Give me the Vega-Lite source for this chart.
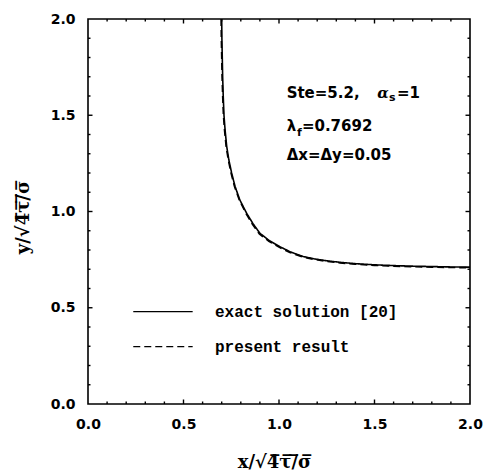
{
  "$schema": "https://vega.github.io/schema/vega-lite/v6.json",
  "autosize": {"type": "none"},
  "padding": {"left": 88, "top": 19, "right": 14, "bottom": 69},
  "width": 382,
  "height": 385,
  "background": "white",
  "config": {
    "view": {"stroke": "black", "strokeWidth": 1.6},
    "axis": {
      "domain": false, "grid": false, "ticks": false,
      "labelFont": "DejaVu Sans", "labelFontWeight": "bold", "labelFontSize": 14, "labelColor": "black",
      "titleFont": "DejaVu Serif", "titleFontWeight": "bold", "titleFontSize": 18, "titleColor": "black"
    }
  },
  "datasets": {
    "curves": [
      {"series": "exact", "x": 0.700, "y": 2.00},
      {"series": "exact", "x": 0.701, "y": 1.90},
      {"series": "exact", "x": 0.703, "y": 1.80},
      {"series": "exact", "x": 0.705, "y": 1.70},
      {"series": "exact", "x": 0.708, "y": 1.60},
      {"series": "exact", "x": 0.712, "y": 1.50},
      {"series": "exact", "x": 0.718, "y": 1.42},
      {"series": "exact", "x": 0.726, "y": 1.34},
      {"series": "exact", "x": 0.737, "y": 1.27},
      {"series": "exact", "x": 0.752, "y": 1.20},
      {"series": "exact", "x": 0.770, "y": 1.13},
      {"series": "exact", "x": 0.795, "y": 1.06},
      {"series": "exact", "x": 0.831, "y": 0.99},
      {"series": "exact", "x": 0.865, "y": 0.935},
      {"series": "exact", "x": 0.900, "y": 0.887},
      {"series": "exact", "x": 0.950, "y": 0.848},
      {"series": "exact", "x": 1.005, "y": 0.817},
      {"series": "exact", "x": 1.060, "y": 0.790},
      {"series": "exact", "x": 1.127, "y": 0.766},
      {"series": "exact", "x": 1.190, "y": 0.753},
      {"series": "exact", "x": 1.250, "y": 0.744},
      {"series": "exact", "x": 1.320, "y": 0.736},
      {"series": "exact", "x": 1.400, "y": 0.729},
      {"series": "exact", "x": 1.500, "y": 0.723},
      {"series": "exact", "x": 1.600, "y": 0.719},
      {"series": "exact", "x": 1.700, "y": 0.716},
      {"series": "exact", "x": 1.800, "y": 0.714},
      {"series": "exact", "x": 1.900, "y": 0.712},
      {"series": "exact", "x": 2.000, "y": 0.711},
      {"series": "present", "x": 0.697, "y": 2.00},
      {"series": "present", "x": 0.698, "y": 1.90},
      {"series": "present", "x": 0.700, "y": 1.80},
      {"series": "present", "x": 0.702, "y": 1.70},
      {"series": "present", "x": 0.705, "y": 1.60},
      {"series": "present", "x": 0.709, "y": 1.50},
      {"series": "present", "x": 0.715, "y": 1.42},
      {"series": "present", "x": 0.723, "y": 1.34},
      {"series": "present", "x": 0.734, "y": 1.27},
      {"series": "present", "x": 0.749, "y": 1.20},
      {"series": "present", "x": 0.767, "y": 1.13},
      {"series": "present", "x": 0.792, "y": 1.06},
      {"series": "present", "x": 0.827, "y": 0.99},
      {"series": "present", "x": 0.862, "y": 0.932},
      {"series": "present", "x": 0.897, "y": 0.884},
      {"series": "present", "x": 0.947, "y": 0.845},
      {"series": "present", "x": 1.002, "y": 0.814},
      {"series": "present", "x": 1.057, "y": 0.787},
      {"series": "present", "x": 1.125, "y": 0.763},
      {"series": "present", "x": 1.190, "y": 0.750},
      {"series": "present", "x": 1.250, "y": 0.741},
      {"series": "present", "x": 1.320, "y": 0.733},
      {"series": "present", "x": 1.400, "y": 0.726},
      {"series": "present", "x": 1.500, "y": 0.720},
      {"series": "present", "x": 1.600, "y": 0.716},
      {"series": "present", "x": 1.700, "y": 0.713},
      {"series": "present", "x": 1.800, "y": 0.711},
      {"series": "present", "x": 1.900, "y": 0.709},
      {"series": "present", "x": 2.000, "y": 0.708}
    ],
    "tickVals": [
      {"v": 0.1, "kind": "minor"}, {"v": 0.2, "kind": "minor"}, {"v": 0.3, "kind": "minor"}, {"v": 0.4, "kind": "minor"},
      {"v": 0.5, "kind": "major"}, {"v": 0.6, "kind": "minor"}, {"v": 0.7, "kind": "minor"}, {"v": 0.8, "kind": "minor"},
      {"v": 0.9, "kind": "minor"}, {"v": 1.0, "kind": "major"}, {"v": 1.1, "kind": "minor"}, {"v": 1.2, "kind": "minor"},
      {"v": 1.3, "kind": "minor"}, {"v": 1.4, "kind": "minor"}, {"v": 1.5, "kind": "major"}, {"v": 1.6, "kind": "minor"},
      {"v": 1.7, "kind": "minor"}, {"v": 1.8, "kind": "minor"}, {"v": 1.9, "kind": "minor"}
    ],
    "legendLines": [
      {"series": "exact", "x": 0.237, "y": 0.48},
      {"series": "exact", "x": 0.548, "y": 0.48},
      {"series": "present", "x": 0.237, "y": 0.298},
      {"series": "present", "x": 0.548, "y": 0.298}
    ],
    "legendText": [
      {"label": "exact solution [20]", "x": 0.665, "y": 0.48},
      {"label": "present result", "x": 0.665, "y": 0.298}
    ],
    "notes": [
      {"label": "Ste=5.2,", "x": 1.04, "y": 1.618},
      {"label": "=1", "x": 1.618, "y": 1.618},
      {"label": "λ", "x": 1.04, "y": 1.444},
      {"label": "=0.7692", "x": 1.12, "y": 1.444},
      {"label": "Δx=Δy=0.05", "x": 1.04, "y": 1.294}
    ],
    "greek": [
      {"label": "α", "x": 1.515, "y": 1.618}
    ],
    "subs": [
      {"label": "s", "x": 1.576, "y": 1.591},
      {"label": "f", "x": 1.094, "y": 1.41}
    ]
  },
  "layer": [
    {
      "data": {"name": "curves"},
      "mark": {"type": "line", "color": "black", "strokeWidth": 1.6},
      "encoding": {
        "x": {"field": "x", "type": "quantitative",
              "scale": {"domain": [0, 2], "nice": false, "zero": false},
              "axis": {"orient": "bottom", "values": [0, 0.5, 1.0, 1.5, 2.0], "format": ".1f",
                       "labelPadding": 13, "labelFlush": false, "labelOverlap": false,
                       "title": "x/√4̅τ̅/̅σ̅", "titleX": 186, "titleY": 58, "titleBaseline": "middle", "titleAlign": "center"}},
        "y": {"field": "y", "type": "quantitative",
              "scale": {"domain": [0, 2], "nice": false, "zero": false},
              "axis": {"orient": "left", "values": [0, 0.5, 1.0, 1.5, 2.0], "format": ".1f",
                       "labelPadding": 13, "labelFlush": false, "labelOverlap": false,
                       "title": "y/√4̅τ̅/̅σ̅", "titleX": -65, "titleY": 198, "titleAngle": 270, "titleBaseline": "middle", "titleAlign": "center"}},
        "strokeDash": {"field": "series", "type": "nominal",
                       "scale": {"domain": ["exact", "present"], "range": [[1, 0], [7, 4]]}, "legend": null},
        "order": {"field": "y", "sort": "descending"}
      }
    },
    {
      "data": {"name": "tickVals"},
      "mark": {"type": "point", "shape": "M0,0L0,-1", "filled": false, "stroke": "black", "strokeWidth": 1.4, "opacity": 1},
      "encoding": {
        "x": {"field": "v", "type": "quantitative"},
        "y": {"datum": 0, "type": "quantitative"},
        "size": {"field": "kind", "type": "nominal", "scale": {"domain": ["major", "minor"], "range": [81, 25]}, "legend": null}
      }
    },
    {
      "data": {"name": "tickVals"},
      "mark": {"type": "point", "shape": "M0,0L0,1", "filled": false, "stroke": "black", "strokeWidth": 1.4, "opacity": 1},
      "encoding": {
        "x": {"field": "v", "type": "quantitative"},
        "y": {"datum": 2, "type": "quantitative"},
        "size": {"field": "kind", "type": "nominal", "scale": {"domain": ["major", "minor"], "range": [81, 25]}, "legend": null}
      }
    },
    {
      "data": {"name": "tickVals"},
      "mark": {"type": "point", "shape": "M0,0L1,0", "filled": false, "stroke": "black", "strokeWidth": 1.4, "opacity": 1},
      "encoding": {
        "y": {"field": "v", "type": "quantitative"},
        "x": {"datum": 0, "type": "quantitative"},
        "size": {"field": "kind", "type": "nominal", "scale": {"domain": ["major", "minor"], "range": [81, 25]}, "legend": null}
      }
    },
    {
      "data": {"name": "tickVals"},
      "mark": {"type": "point", "shape": "M0,0L-1,0", "filled": false, "stroke": "black", "strokeWidth": 1.4, "opacity": 1},
      "encoding": {
        "y": {"field": "v", "type": "quantitative"},
        "x": {"datum": 2, "type": "quantitative"},
        "size": {"field": "kind", "type": "nominal", "scale": {"domain": ["major", "minor"], "range": [81, 25]}, "legend": null}
      }
    },
    {
      "data": {"name": "legendLines"},
      "mark": {"type": "line", "color": "black", "strokeWidth": 1.4},
      "encoding": {
        "x": {"field": "x", "type": "quantitative"},
        "y": {"field": "y", "type": "quantitative"},
        "strokeDash": {"field": "series", "type": "nominal",
                       "scale": {"domain": ["exact", "present"], "range": [[1, 0], [7, 4]]}, "legend": null},
        "detail": {"field": "series"}
      }
    },
    {
      "data": {"name": "legendText"},
      "mark": {"type": "text", "align": "left", "baseline": "middle", "font": "Liberation Mono", "fontWeight": "bold", "fontSize": 16, "color": "black"},
      "encoding": {
        "x": {"field": "x", "type": "quantitative"},
        "y": {"field": "y", "type": "quantitative"},
        "text": {"field": "label"}
      }
    },
    {
      "data": {"name": "notes"},
      "mark": {"type": "text", "align": "left", "baseline": "middle", "font": "DejaVu Sans", "fontWeight": "bold", "fontSize": 15, "color": "black"},
      "encoding": {
        "x": {"field": "x", "type": "quantitative"},
        "y": {"field": "y", "type": "quantitative"},
        "text": {"field": "label"}
      }
    },
    {
      "data": {"name": "greek"},
      "mark": {"type": "text", "align": "left", "baseline": "middle", "font": "DejaVu Serif", "fontStyle": "italic", "fontWeight": "bold", "fontSize": 15, "color": "black"},
      "encoding": {
        "x": {"field": "x", "type": "quantitative"},
        "y": {"field": "y", "type": "quantitative"},
        "text": {"field": "label"}
      }
    },
    {
      "data": {"name": "subs"},
      "mark": {"type": "text", "align": "left", "baseline": "middle", "font": "DejaVu Sans", "fontWeight": "bold", "fontSize": 11, "color": "black"},
      "encoding": {
        "x": {"field": "x", "type": "quantitative"},
        "y": {"field": "y", "type": "quantitative"},
        "text": {"field": "label"}
      }
    }
  ]
}
